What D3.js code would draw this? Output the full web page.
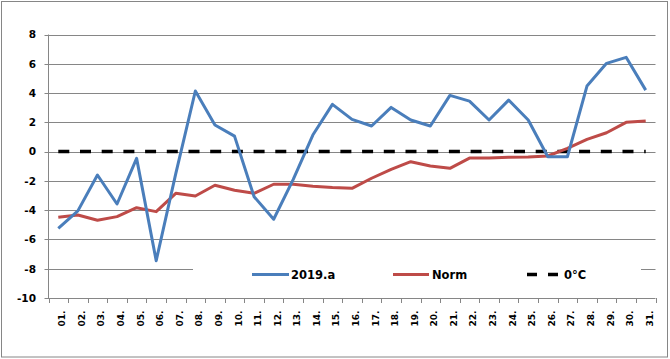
<!DOCTYPE html>
<html><head><meta charset="utf-8">
<script src="https://cdn.jsdelivr.net/npm/d3@7"></script>
<style>html,body{margin:0;padding:0;background:#fff;}svg{display:block;}</style>
</head><body>
<script>
const days = ["01.","02.","03.","04.","05.","06.","07.","08.","09.","10.","11.","12.","13.","14.","15.","16.","17.","18.","19.","20.","21.","22.","23.","24.","25.","26.","27.","28.","29.","30.","31."];
const series2019 = [-5.24,-4.05,-1.6,-3.58,-0.46,-7.45,-1.5,4.14,1.82,1.06,-3.08,-4.62,-1.9,1.13,3.23,2.2,1.75,3.02,2.16,1.75,3.84,3.45,2.16,3.52,2.16,-0.35,-0.35,4.48,6.03,6.44,4.2];
const seriesNorm = [-4.49,-4.33,-4.69,-4.44,-3.83,-4.1,-2.85,-3.03,-2.3,-2.64,-2.85,-2.23,-2.23,-2.36,-2.45,-2.51,-1.82,-1.21,-0.69,-0.98,-1.14,-0.44,-0.44,-0.39,-0.37,-0.3,0.22,0.84,1.29,2.0,2.09];
const seriesZero = days.map(() => 0);
const yTicks = [-10,-8,-6,-4,-2,0,2,4,6,8];
const legendLabels = ["2019.a","Norm","0°C"];

const W = 670, H = 359;
const m = {left:48.5, right:655.5, top:34.5, bottom:298};
const svg = d3.select("body").append("svg").attr("width",W).attr("height",H);
const font = "'DejaVu Sans', Verdana, sans-serif";

// outer border
svg.append("rect").attr("x",1.5).attr("y",1.5).attr("width",666).attr("height",355.5)
  .attr("fill","#fff").attr("stroke","#868686").attr("stroke-width",1);

const x = d3.scaleBand().domain(days).range([m.left,m.right]).paddingInner(0).paddingOuter(0);
const y = d3.scaleLinear().domain([-10,8]).range([m.bottom,m.top]);
const cx = d => x(d) + x.bandwidth()/2;

// gridlines
svg.append("g").selectAll("line").data(yTicks).join("line")
  .attr("x1",m.left-4).attr("x2",m.right)
  .attr("y1",d=>Math.round(y(d))+0.5).attr("y2",d=>Math.round(y(d))+0.5)
  .attr("stroke","#868686").attr("stroke-width",1);

// y axis line
svg.append("line").attr("x1",m.left).attr("x2",m.left).attr("y1",m.top).attr("y2",m.bottom)
  .attr("stroke","#868686").attr("stroke-width",1);

// y labels
svg.append("g").selectAll("text").data(yTicks).join("text")
  .attr("x",36).attr("y",d=>y(d)).attr("dy","0.36em")
  .attr("text-anchor","end").attr("font-family",font).attr("font-weight","bold")
  .attr("font-size","10.5px").attr("fill","#000").text(d=>d);

// x ticks
const bounds = days.map(d=>x(d)).concat([m.right]);
svg.append("g").selectAll("line").data(bounds).join("line")
  .attr("x1",d=>Math.round(d)+0.5).attr("x2",d=>Math.round(d)+0.5)
  .attr("y1",m.bottom).attr("y2",m.bottom+5)
  .attr("stroke","#868686").attr("stroke-width",1);

// x labels
svg.append("g").selectAll("text").data(days).join("text")
  .attr("transform",d=>`translate(${cx(d)+7},310.5) rotate(-90)`)
  .attr("text-anchor","end").attr("font-family",font).attr("font-weight","bold")
  .attr("font-size","9px").attr("fill","#000").text(d=>d);

// legend background (covers gridline)
svg.append("rect").attr("x",193).attr("y",264).attr("width",448).attr("height",22).attr("fill","#fff");

const line = d3.line().x((d,i)=>cx(days[i])).y(d=>y(d));

svg.append("path").datum(seriesZero).attr("d",line).attr("fill","none")
  .attr("stroke","#000").attr("stroke-width",3.5).attr("stroke-dasharray","11,10.7");
svg.append("path").datum(seriesNorm).attr("d",line).attr("fill","none")
  .attr("stroke","#be4b48").attr("stroke-width",3).attr("stroke-linejoin","round");
svg.append("path").datum(series2019).attr("d",line).attr("fill","none")
  .attr("stroke","#4a7ebb").attr("stroke-width",3).attr("stroke-linejoin","round");

// legend
const legend = [
  {x1:252,x2:289,tx:291,color:"#4a7ebb",dash:null},
  {x1:393,x2:429,tx:432,color:"#be4b48",dash:null},
  {x1:527,x2:559,tx:564,color:"#000",dash:"10,11"}
];
const lg = svg.append("g");
legend.forEach((l,i)=>{
  lg.append("line").attr("x1",l.x1).attr("x2",l.x2).attr("y1",274.5).attr("y2",274.5)
    .attr("stroke",l.color).attr("stroke-width",l.dash?3.5:3).attr("stroke-dasharray",l.dash);
  lg.append("text").attr("x",l.tx).attr("y",274.5).attr("dy","0.36em")
    .attr("font-family",font).attr("font-weight","bold").attr("font-size","11.5px")
    .attr("fill","#000").text(legendLabels[i]);
});
</script>
</body></html>
